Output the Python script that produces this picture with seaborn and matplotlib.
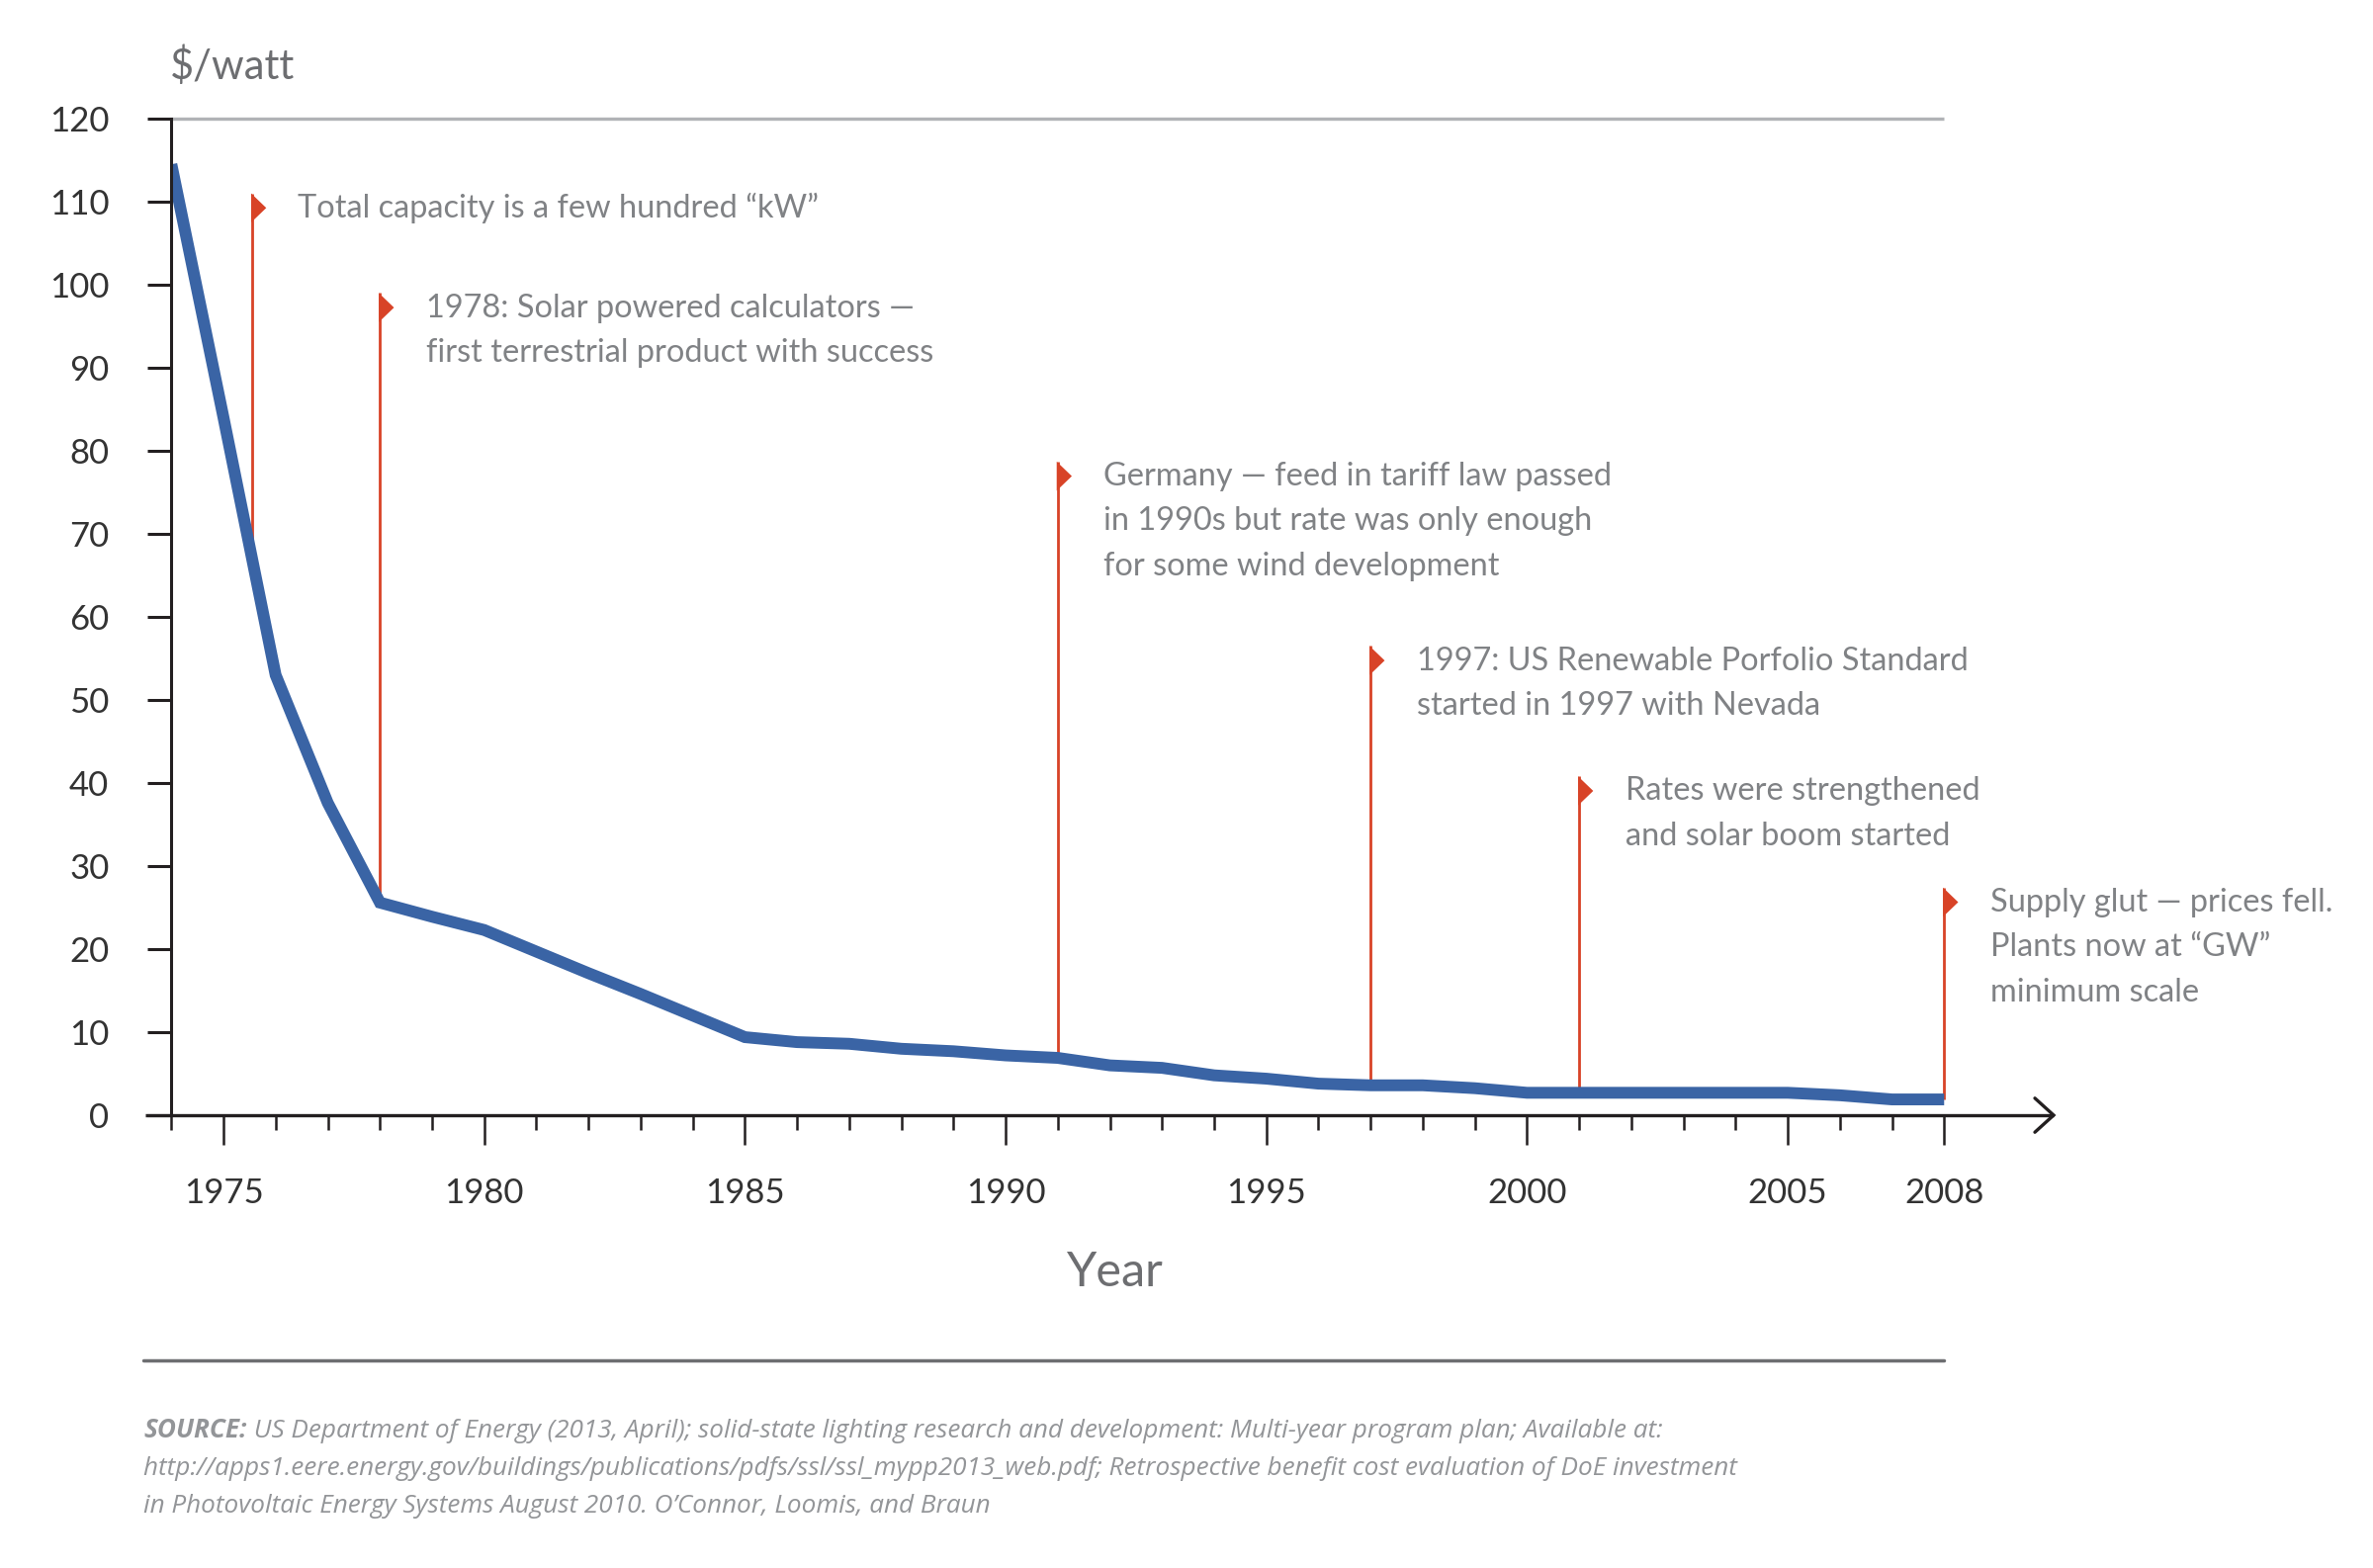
import numpy as np
import pandas as pd
import matplotlib
matplotlib.use("Agg")
import matplotlib.pyplot as plt
import seaborn as sns

# ---------------- data ----------------
years = list(range(1974, 2009))
price = [114.5, 84.0, 53.0, 37.6, 25.6, 23.9, 22.3, 19.7, 17.1, 14.6, 12.0,
         9.4, 8.8, 8.6, 8.0, 7.7, 7.2, 6.9, 6.0, 5.7, 4.8, 4.4, 3.8, 3.6,
         3.6, 3.25, 2.7, 2.7, 2.7, 2.7, 2.7, 2.7, 2.4, 1.9, 1.9]

major_years = [1975, 1980, 1985, 1990, 1995, 2000, 2005, 2008]
y_ticks = [0, 10, 20, 30, 40, 50, 60, 70, 80, 90, 100, 110, 120]

note_years = [1975.55, 1978, 1991, 1997, 2001, 2008]
note_tops = [111.0, 99.0, 78.7, 56.5, 40.8, 27.4]
note_texts = [
    ["Total capacity is a few hundred \u201ckW\u201d"],
    ["1978: Solar powered calculators \u2014", "first terrestrial product with success"],
    ["Germany \u2014 feed in tariff law passed", "in 1990s but rate was only enough",
     "for some wind development"],
    ["1997: US Renewable Porfolio Standard", "started in 1997 with Nevada"],
    ["Rates were strengthened", "and solar boom started"],
    ["Supply glut \u2014 prices fell.", "Plants now at \u201cGW\u201d", "minimum scale"],
]

y_label = "$/watt"
x_label = "Year"
source_bold = "SOURCE:"
source_lines = [
    " US Department of Energy (2013, April); solid-state lighting research and development: Multi-year program plan; Available at:",
    "http://apps1.eere.energy.gov/buildings/publications/pdfs/ssl/ssl_mypp2013_web.pdf; Retrospective benefit cost evaluation of DoE investment",
    "in Photovoltaic Energy Systems August 2010. O\u2019Connor, Loomis, and Braun",
]

# ---------------- style ----------------
sns.set_theme(style="white")
plt.rcParams["font.family"] = ["Lato", "DejaVu Sans"]

BLUE = "#3a64a5"
RED = "#d84327"
DARK = "#231f20"
GRAY_TXT = "#808285"
GRAY_LBL = "#6d6e71"
GRAY_SRC = "#939598"
GRID_GRAY = "#b1b3b6"
SRC_FONT = ["Open Sans", "Lato", "DejaVu Sans"]

W_PX, H_PX = 2400, 1586
fig = plt.figure(figsize=(24, 15.86), dpi=100)
x0_px, x1_px = 173.3, 2077.0
ytop_px, ybot_px = 120.0, 1128.0
ax = fig.add_axes([x0_px / W_PX, (H_PX - ybot_px) / H_PX,
                   (x1_px - x0_px) / W_PX, (ybot_px - ytop_px) / H_PX])
ax.set_xlim(1974, 2010.1)
ax.set_ylim(0, 120)

df = pd.DataFrame({"year": years, "price": price})

# annotation stems + flags (beneath the blue line)
for xv, top, lines in zip(note_years, note_tops, note_texts):
    base = float(np.interp(xv, years, price))
    ax.plot([xv, xv], [base, top], color=RED, lw=2.0, zorder=2,
            solid_capstyle="butt")
    ax.fill([xv - 0.02, xv + 0.27, xv - 0.02], [top, top - 1.75, top - 3.5],
            color=RED, lw=0, zorder=3)
    for i, line in enumerate(lines):
        ax.text(xv + 0.88, top - 1.8 - i * 5.4, line, fontsize=23.4,
                color=GRAY_TXT, va="center", ha="left", zorder=4)

# top reference line at 120
ax.plot([1974, 2008], [120, 120], color=GRID_GRAY, lw=2.4, clip_on=False,
        zorder=1, solid_capstyle="butt")

sns.lineplot(data=df, x="year", y="price", ax=ax, color=BLUE, lw=8.6,
             zorder=5, solid_joinstyle="miter", solid_capstyle="butt",
             legend=False)

# bottom axis line with arrow head
ax.plot([1973.5, 2010.1], [0, 0], color=DARK, lw=2.4, clip_on=False,
        zorder=6, solid_capstyle="butt")
ax.plot([2009.74, 2010.1, 2009.74], [2.05, 0, -2.05], color=DARK, lw=2.4,
        clip_on=False, zorder=6, solid_joinstyle="miter")

# spines
for s in ["top", "right", "bottom"]:
    ax.spines[s].set_visible(False)
ax.spines["left"].set_color(DARK)
ax.spines["left"].set_linewidth(2.2)
ax.spines["left"].set_zorder(6)

ax.set_yticks(y_ticks)
ax.set_yticklabels([str(v) for v in y_ticks])
ax.set_xticks(major_years)
ax.set_xticklabels([str(v) for v in major_years])
ax.set_xticks([y for y in years if y not in major_years], minor=True)
ax.tick_params(axis="y", which="major", direction="out", length=17.3,
               width=2.2, color=DARK, pad=28, labelsize=25, labelcolor="#333333",
               left=True)
ax.tick_params(axis="x", which="major", direction="out", length=21.6,
               width=1.8, color=DARK, pad=24, labelsize=25, labelcolor="#333333",
               bottom=True)
ax.tick_params(axis="x", which="minor", direction="out", length=10.8,
               width=1.8, color=DARK, bottom=True)
ax.set_xlabel("")
ax.set_ylabel("")
ax.grid(False)

# axis titles
fig.text(172 / W_PX, 1 - 67 / H_PX, y_label, fontsize=30, color=GRAY_LBL,
         ha="left", va="center")
fig.text(1127 / W_PX, 1 - 1287 / H_PX, x_label, fontsize=35, color=GRAY_LBL,
         ha="center", va="center")

# separator line
fig.add_artist(plt.Line2D([145 / W_PX, 1966 / W_PX], [1 - 1376 / H_PX] * 2,
                          color=GRAY_LBL, lw=2.5, transform=fig.transFigure))

# source text
SRC_SIZE = 18.8
src_y = [1447, 1486, 1524]
fig.canvas.draw()
renderer = fig.canvas.get_renderer()
t_bold = fig.text(145 / W_PX, 1 - src_y[0] / H_PX, source_bold, fontsize=SRC_SIZE,
                  style="italic", weight="bold", color=GRAY_SRC,
                  family=SRC_FONT, ha="left", va="center")
bb = t_bold.get_window_extent(renderer=renderer)
fig.text(bb.x1 / W_PX, 1 - src_y[0] / H_PX, source_lines[0], fontsize=SRC_SIZE,
         style="italic", color=GRAY_SRC, family=SRC_FONT, ha="left", va="center")
for yy, line in zip(src_y[1:], source_lines[1:]):
    fig.text(145 / W_PX, 1 - yy / H_PX, line, fontsize=SRC_SIZE, style="italic",
             color=GRAY_SRC, family=SRC_FONT, ha="left", va="center")

fig.savefig("out.png", dpi=100, facecolor="white")
